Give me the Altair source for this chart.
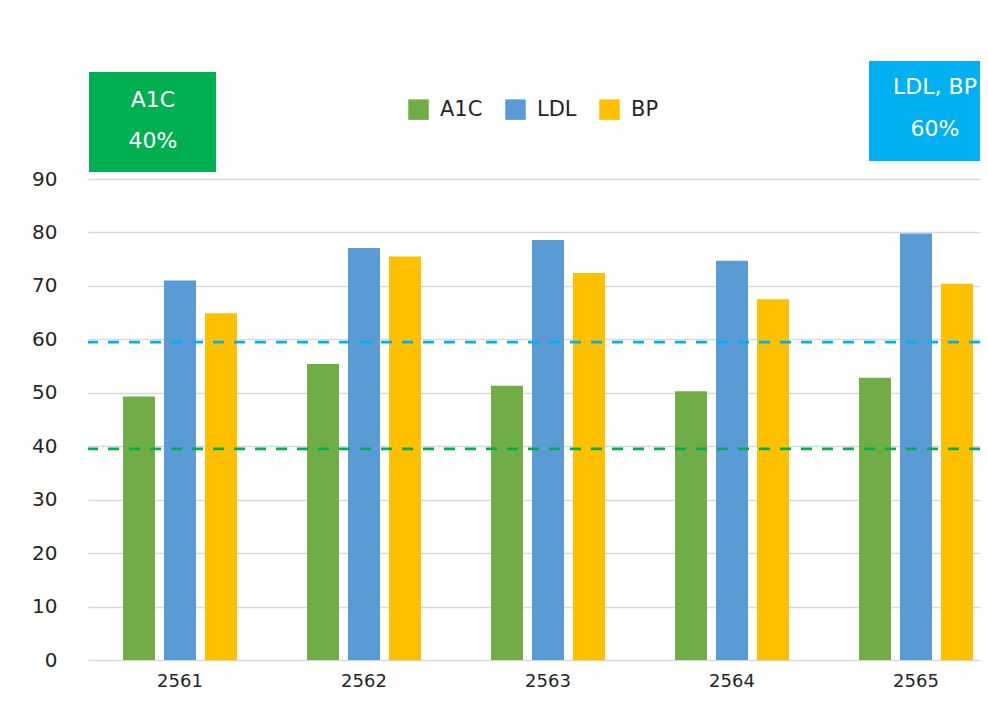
import altair as alt
import pandas as pd

years = ["2561", "2562", "2563", "2564", "2565"]
series = ["A1C", "LDL", "BP"]
a1c = [49.3, 55.4, 51.3, 50.3, 52.8]
ldl = [71.0, 77.1, 78.6, 74.7, 79.8]
bp = [64.9, 75.5, 72.4, 67.5, 70.4]
bar_colors = ["#70ad47", "#5b9bd5", "#ffc000"]
targets = [39.5, 59.5]
target_colors = ["#00b050", "#00b0f0"]
y_ticks = list(range(0, 91, 10))
box_titles = ["A1C", "LDL, BP"]
box_values = ["40%", "60%"]

rows = []
for name, vals in zip(series, [a1c, ldl, bp]):
    for yr, v in zip(years, vals):
        rows.append({"year": yr, "series": name, "value": v})
df = pd.DataFrame(rows)

FONT = "DejaVu Sans"
TXT = "#262626"

bars = alt.Chart(df).mark_bar().encode(
    x=alt.X(
        "year:N", sort=years,
        scale=alt.Scale(range=[0, 920], paddingInner=0, paddingOuter=0),
        axis=alt.Axis(title=None, labelAngle=0, domain=False, ticks=False,
                      labelPadding=12, labelFontSize=18, labelColor=TXT,
                      labelFont=FONT, grid=False),
    ),
    xOffset=alt.XOffset("series:N", sort=series,
                        scale=alt.Scale(paddingInner=0.22, paddingOuter=0.854)),
    y=alt.Y(
        "value:Q",
        scale=alt.Scale(domain=[0, 90], nice=False),
        axis=alt.Axis(values=y_ticks, title=None, domain=False, ticks=False,
                      labelPadding=31, labelFontSize=20, labelColor=TXT,
                      labelFont=FONT, gridColor="#d9d9d9", gridWidth=1.5),
    ),
    color=alt.Color(
        "series:N", sort=series,
        scale=alt.Scale(domain=series, range=bar_colors),
        legend=alt.Legend(orient="none", legendX=320, legendY=-80,
                          direction="horizontal", title=None,
                          symbolType="square", symbolSize=420,
                          symbolStrokeWidth=0, labelFontSize=21,
                          labelFont=FONT, labelColor=TXT,
                          columnPadding=22, labelOffset=11),
    ),
)

layers = [bars]
for t, c in zip(targets, target_colors):
    layers.append(
        alt.Chart(pd.DataFrame({"target": [t]})).mark_rule(
            color=c, strokeWidth=2.75, strokeDash=[11, 10]
        ).encode(y="target:Q")
    )

# annotation boxes
box_df = pd.DataFrame({"title": box_titles, "value": box_values})
green_box = alt.Chart(box_df.iloc[[0]]).mark_rect(color="#00b050").encode(
    x=alt.value(1), x2=alt.value(128), y=alt.value(-107), y2=alt.value(-7))
blue_box = alt.Chart(box_df.iloc[[1]]).mark_rect(color="#00b0f0").encode(
    x=alt.value(781), x2=alt.value(930), y=alt.value(-118), y2=alt.value(-18))
txt_kw = dict(color="white", fontSize=22, font=FONT, baseline="middle", align="center")
green_t1 = alt.Chart(box_df.iloc[[0]]).mark_text(**txt_kw).encode(
    text="title:N", x=alt.value(65), y=alt.value(-79))
green_t2 = alt.Chart(box_df.iloc[[0]]).mark_text(**txt_kw).encode(
    text="value:N", x=alt.value(65), y=alt.value(-38))
blue_t1 = alt.Chart(box_df.iloc[[1]]).mark_text(**txt_kw).encode(
    text="title:N", x=alt.value(847), y=alt.value(-92))
blue_t2 = alt.Chart(box_df.iloc[[1]]).mark_text(**txt_kw).encode(
    text="value:N", x=alt.value(847), y=alt.value(-50))
layers += [green_box, blue_box, green_t1, green_t2, blue_t1, blue_t2]

chart = alt.layer(*layers).properties(
    width=892, height=481,
    autosize=alt.AutoSizeParams(type="none"),
    padding={"left": 80, "top": 171, "right": 0, "bottom": 30},
    background="white",
).configure_view(stroke=None)

chart.save("out.html", embed_options={"renderer": "svg", "actions": False})
